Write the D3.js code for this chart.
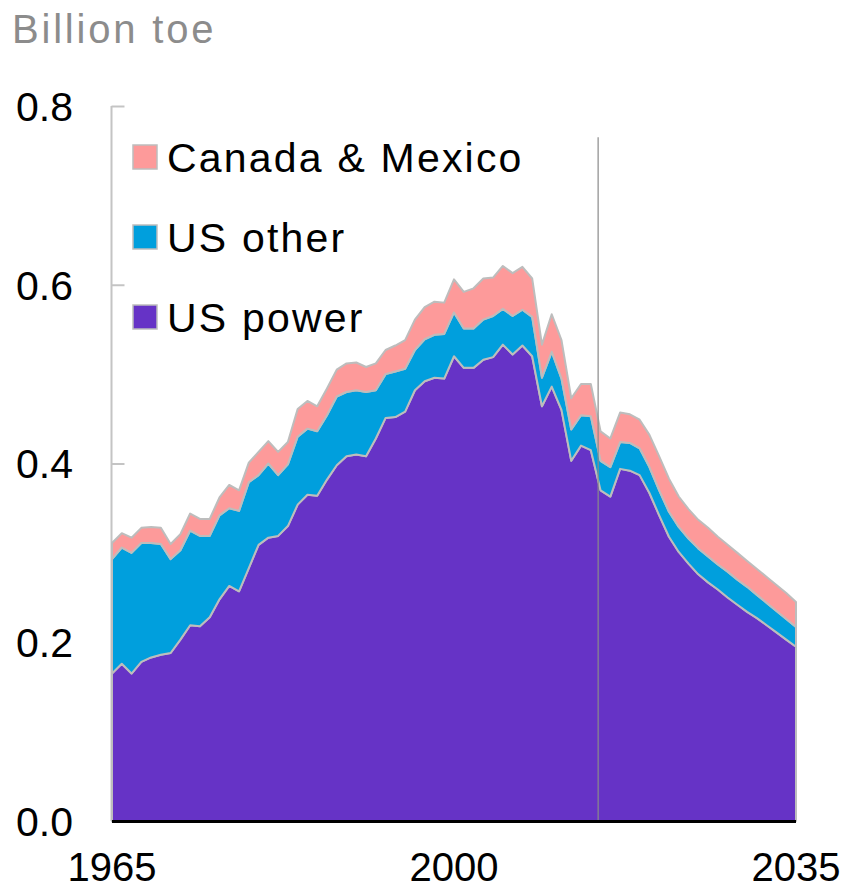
<!DOCTYPE html>
<html>
<head>
<meta charset="utf-8">
<script src="https://cdn.jsdelivr.net/npm/d3@7/dist/d3.min.js"></script>
<style>
  body { margin:0; background:#fff; }
  text { font-family: "Liberation Sans", Arial, sans-serif; }
</style>
</head>
<body>
<div class="canvas"></div>
<script>
// years 1965..2035, history to 2014 then outlook
const years = d3.range(1965, 2036)

const usPower = [
  .165,.176,.165,.178,.183,.186,.188,.203,.219,.218,
  .228,.248,.263,.257,.283,.309,.317,.319,.330,.354,
  .365,.364,.382,.398,.408,.410,.408,.428,.451,.452,
  .458,.482,.492,.496,.495,.520,.507,.507,.516,.519,
  .533,.522,.532,.520,.464,.486,.460,.403,.420,.415,
  .370,.363,.394,.392,.387,.367,.342,.318,.301,.288,
  .276,.267,.259,.250,.242,.234,.227,.219,.211,.203,
  .195]
const usOther = [
  .128,.130,.135,.133,.128,.124,.105,.100,.106,.101,
  .091,.094,.087,.090,.096,.078,.083,.068,.069,.076,
  .074,.072,.072,.077,.072,.072,.072,.054,.049,.051,
  .048,.045,.047,.048,.050,.049,.044,.044,.045,.046,
  .040,.043,.040,.044,.032,.039,.035,.035,.034,.038,
  .033,.033,.030,.031,.030,.029,.028,.028,.028,.028,
  .029,.029,.028,.029,.028,.028,.026,.025,.024,.023,
  .022]
const canMex = [
  .018,.016,.017,.017,.018,.018,.017,.018,.019,.019,
  .019,.020,.026,.023,.022,.026,.025,.026,.025,.031,
  .031,.028,.030,.030,.032,.031,.028,.030,.027,.029,
  .032,.034,.036,.037,.035,.037,.041,.045,.046,.043,
  .048,.048,.048,.043,.037,.042,.043,.035,.035,.036,
  .033,.032,.033,.032,.032,.036,.038,.037,.034,.033,
  .032,.032,.031,.030,.030,.029,.029,.029,.029,.029,
  .028]

const keys = ["US power", "US other", "Canada & Mexico"]
const yTicks = [0, 0.2, 0.4, 0.6, 0.8]
const xTicks = [1965, 2000, 2035]
const projectionStart = 2014.75
const dividerTop = 0.765

const dim = { width:846, height:891 }
const color = d3.scaleOrdinal().domain(keys).range(["#6633c6", "#009fdd", "#fd9a9a"])

const svg = d3.select(".canvas").append("svg").attr("width", dim.width).attr("height", dim.height)

const x = d3.scaleLinear().domain([1965, 2035]).range([112, 796])
const y = d3.scaleLinear().domain([0, 0.8]).range([821, 106])

const rows = years.map((yr, i) => ({ year: yr, "US power": usPower[i], "US other": usOther[i], "Canada & Mexico": canMex[i] }))
const stack = d3.stack().keys(keys)
const layers = stack(rows)

const area = d3.area()
  .x(d => x(d.data.year))
  .y0(d => y(d[0]))
  .y1(d => y(d[1]))

// title
svg.append("text")
  .attr("x", 12).attr("y", 43)
  .attr("font-size", 40).attr("letter-spacing", 2.8)
  .attr("fill", "#8c8c8c")
  .text("Billion toe")

// y axis (grey line with small inner ticks)
const yAxis = d3.axisRight(y).tickValues(yTicks).tickSize(13).tickFormat("")
const yg = svg.append("g").attr("transform", "translate(111.5,0)").call(yAxis)
yg.select(".domain").attr("stroke", "#c4c4c4").attr("stroke-width", 2).attr("d", `M0,${y(0.8)}V${y(0)}`)
yg.selectAll(".tick line").attr("stroke", "#c4c4c4").attr("stroke-width", 2)

svg.append("g").selectAll("text").data(yTicks).enter().append("text")
  .attr("x", 73).attr("y", d => y(d))
  .attr("dy", "0.36em")
  .attr("text-anchor", "end")
  .attr("font-size", 41)
  .attr("fill", "#000")
  .text(d => d.toFixed(1))

// stacked areas
svg.append("g").selectAll("path").data(layers).enter().append("path")
  .attr("d", area)
  .attr("fill", d => color(d.key))
  .attr("stroke", "#bdbdbd")
  .attr("stroke-width", 2)
  .attr("stroke-linejoin", "round")

// history / outlook divider
svg.append("line")
  .attr("x1", x(projectionStart)).attr("x2", x(projectionStart))
  .attr("y1", y(dividerTop)).attr("y2", y(0))
  .attr("stroke", "#8a8a8a").attr("stroke-width", 1.2)

// x baseline
svg.append("line")
  .attr("x1", x(1965)).attr("x2", x(2035))
  .attr("y1", y(0) + 0.5).attr("y2", y(0) + 0.5)
  .attr("stroke", "#000").attr("stroke-width", 3)

svg.append("g").selectAll("text").data(xTicks).enter().append("text")
  .attr("x", d => x(d)).attr("y", 881)
  .attr("text-anchor", "middle")
  .attr("font-size", 40)
  .attr("fill", "#000")
  .text(d => d)

// legend
const legendKeys = keys.slice().reverse()
const legend = svg.append("g").attr("transform", "translate(133,157)")
const item = legend.selectAll("g").data(legendKeys).enter().append("g")
  .attr("transform", (d, i) => `translate(0,${i * 80})`)
item.append("rect")
  .attr("x", 0).attr("y", -12).attr("width", 24).attr("height", 24)
  .attr("fill", d => color(d))
  .attr("stroke", "#bdbdbd").attr("stroke-width", 1.5)
item.append("text")
  .attr("x", 34).attr("y", 0).attr("dy", "0.36em")
  .attr("font-size", 41).attr("letter-spacing", 2.2)
  .attr("fill", "#000")
  .text(d => d)
</script>
</body>
</html>
